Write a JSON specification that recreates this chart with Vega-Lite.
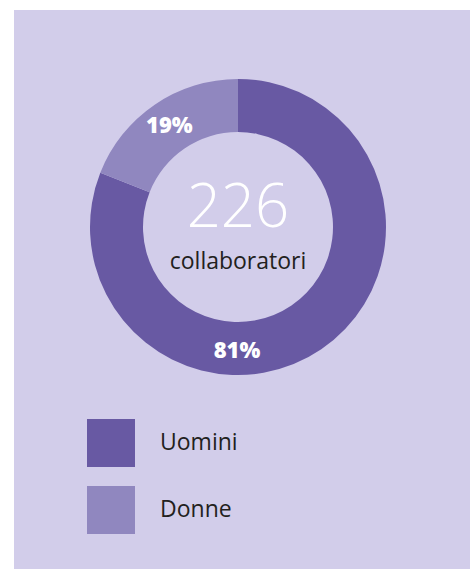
{
  "$schema": "https://vega.github.io/schema/vega-lite/v6.json",
  "width": 456,
  "height": 559,
  "padding": {"left": 14, "top": 10, "right": 1, "bottom": 0},
  "autosize": {"type": "none"},
  "background": "white",
  "view": {"fill": "#D2CDEA", "stroke": null},
  "config": {
    "view": {"fill": "#D2CDEA", "stroke": null},
    "font": "Open Sans"
  },
  "data": {
    "values": [
      {"genere": "Uomini", "collaboratori": 183, "etichetta": "81%"},
      {"genere": "Donne", "collaboratori": 43, "etichetta": "19%"}
    ]
  },
  "layer": [
    {
      "mark": {"type": "arc", "outerRadius": 148, "innerRadius": 95, "xOffset": -4, "yOffset": -62.5, "strokeWidth": 0},
      "encoding": {
        "theta": {"field": "collaboratori", "type": "quantitative", "stack": true},
        "order": {"field": "collaboratori", "sort": "descending"},
        "color": {
          "field": "genere",
          "type": "nominal",
          "scale": {"domain": ["Uomini", "Donne"], "range": ["#6859A3", "#9087BF"]},
          "legend": {
            "title": null,
            "orient": "none",
            "legendX": 73,
            "legendY": 409,
            "symbolType": "square",
            "symbolSize": 2304,
            "symbolStrokeWidth": 0,
            "symbolOpacity": 1,
            "labelFont": "Open Sans",
            "labelFontSize": 23,
            "labelColor": "#231F20",
            "labelOffset": 25,
            "rowPadding": 19
          }
        }
      }
    },
    {
      "mark": {"type": "text", "radius": 122, "xOffset": -4, "yOffset": -62.5, "fontSize": 22, "fontWeight": 800, "color": "white", "baseline": "middle", "align": "center"},
      "encoding": {
        "theta": {"field": "collaboratori", "type": "quantitative", "stack": true},
        "order": {"field": "collaboratori", "sort": "descending"},
        "text": {"condition": {"test": "datum.genere === 'Donne'", "field": "etichetta"}, "value": ""}
      }
    },
    {
      "transform": [{"filter": "datum.genere === 'Uomini'"}],
      "mark": {"type": "text", "xOffset": -5, "yOffset": 68, "fontSize": 22, "fontWeight": 800, "color": "white", "baseline": "alphabetic", "align": "center"},
      "encoding": {"text": {"field": "etichetta"}}
    },
    {
      "transform": [{"aggregate": [{"op": "sum", "field": "collaboratori", "as": "totale"}]}],
      "mark": {"type": "text", "xOffset": -4, "yOffset": -62.5, "fontSize": 60, "fontWeight": 300, "color": "white", "baseline": "alphabetic", "align": "center"},
      "encoding": {"text": {"field": "totale", "type": "quantitative"}}
    },
    {
      "transform": [{"aggregate": [{"op": "count", "as": "n"}]}],
      "mark": {"type": "text", "text": "collaboratori", "xOffset": -4, "yOffset": -20.5, "fontSize": 23, "color": "#231F20", "baseline": "alphabetic", "align": "center"},
      "encoding": {}
    }
  ]
}
